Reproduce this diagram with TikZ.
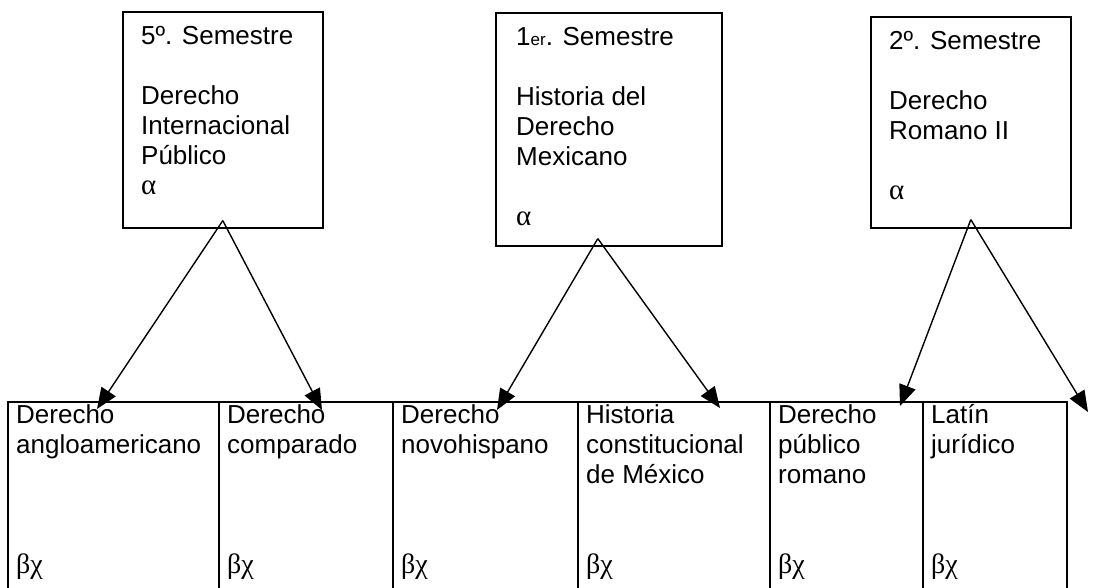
\documentclass[tikz,border=0pt]{standalone}
\usepackage{fontspec}
\setmainfont{Liberation Sans}
\newfontfamily\griego{Liberation Serif}
\usetikzlibrary{arrows.meta}

\begin{document}
\begin{tikzpicture}[x=1pt,y=-1pt,
    caja/.style={draw,line width=1.6pt,anchor=north west,inner sep=0pt},
    texto/.style={anchor=north west,inner sep=0pt,align=left,
      font=\fontsize{26}{30}\selectfont,execute at begin node=\strut},
    flecha/.style={line width=1.4pt,-{Triangle[length=21pt,width=17pt]}}]
      % \draw[help lines] (0,0) grid[step=50] (1093,587);
      \clip (0,0) rectangle (1093,587);

      % semestres
      \draw (122,11) node[caja,minimum width=200pt,minimum height=216pt] (sem5) {};
      \draw (495,12) node[caja,minimum width=226pt,minimum height=233pt] (sem1) {};
      \draw (870,16) node[caja,minimum width=200pt,minimum height=211pt] (sem2) {};

      \draw ([shift={(19,15)}]sem5.north west) node[texto] (sem5txt)
        {5º. Semestre\\[30pt]Derecho\\Internacional\\Público\\{\griego\fontsize{29}{30}\selectfont α}};
      \draw ([shift={(21,15)}]sem1.north west) node[texto] (sem1txt)
        {1{\fontsize{17}{30}\selectfont er}. Semestre\\[30pt]Historia del\\Derecho\\Mexicano\\[30pt]{\griego\fontsize{29}{30}\selectfont α}};
      \draw ([shift={(19,15)}]sem2.north west) node[texto] (sem2txt)
        {2º. Semestre\\[30pt]Derecho\\Romano II\\[30pt]{\griego\fontsize{29}{30}\selectfont α}};

      % materias
      \draw (7,401) node[caja,minimum width=211pt,minimum height=200pt] (angl) {};
      \draw (218,401) node[caja,minimum width=174pt,minimum height=200pt] (comp) {};
      \draw (392,401) node[caja,minimum width=185pt,minimum height=200pt] (novo) {};
      \draw (577,401) node[caja,minimum width=192pt,minimum height=200pt] (const) {};
      \draw (769,401) node[caja,minimum width=153pt,minimum height=200pt] (publ) {};
      \draw (922,401) node[caja,minimum width=144pt,minimum height=200pt] (latin) {};

      \draw ([shift={(9,3)}]angl.north west) node[texto] (angltxt)
        {Derecho\\angloamericano\\[90pt]{\griego\fontsize{28}{30}\selectfont βχ}};
      \draw ([shift={(9,3)}]comp.north west) node[texto] (comptxt)
        {Derecho\\comparado\\[90pt]{\griego\fontsize{28}{30}\selectfont βχ}};
      \draw ([shift={(9,3)}]novo.north west) node[texto] (novotxt)
        {Derecho\\novohispano\\[90pt]{\griego\fontsize{28}{30}\selectfont βχ}};
      \draw ([shift={(9,3)}]const.north west) node[texto] (consttxt)
        {Historia\\constitucional\\de México\\[60pt]{\griego\fontsize{28}{30}\selectfont βχ}};
      \draw ([shift={(9,3)}]publ.north west) node[texto] (publtxt)
        {Derecho\\público\\romano\\[60pt]{\griego\fontsize{28}{30}\selectfont βχ}};
      \draw ([shift={(9,3)}]latin.north west) node[texto] (latintxt)
        {Latín\\jurídico\\[90pt]{\griego\fontsize{28}{30}\selectfont βχ}};

      \coordinate (t1) at (97,409);
      \coordinate (t2) at (322,410);
      \coordinate (t3) at (497,410);
      \coordinate (t4) at (720,408);
      \coordinate (t5) at (900,406);
      \coordinate (t6) at (1088,412);

      \draw [flecha] ([yshift=8pt]sem5.south) -- (t1);
      \draw [flecha] ([yshift=8pt]sem5.south) -- (t2);
      \draw [flecha] ([xshift=-11pt,yshift=8pt]sem1.south) -- (t3);
      \draw [flecha] ([xshift=-11pt,yshift=8pt]sem1.south) -- (t4);
      \draw [flecha] ([yshift=9pt]sem2.south) -- (t5);
      \draw [flecha] ([yshift=9pt]sem2.south) -- (t6);
    \end{tikzpicture}
\end{document}
